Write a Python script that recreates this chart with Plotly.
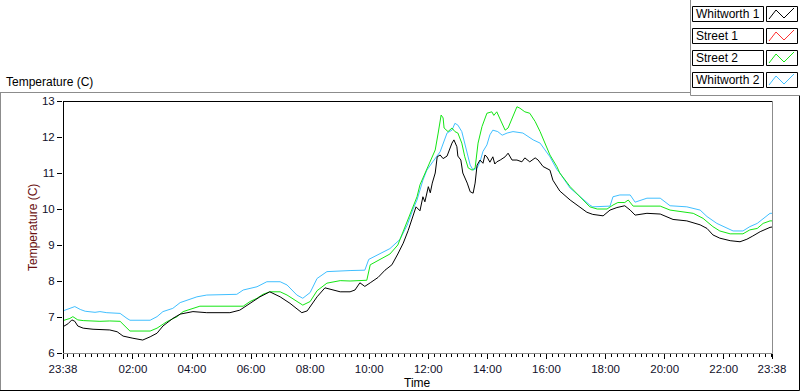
import plotly.graph_objects as go

# ---------------- data (time = minutes after 23:38 start) ----------------
tick_minutes = [0, 142, 262, 382, 502, 622, 742, 862, 982, 1102, 1222, 1342, 1440]
tick_labels = ["23:38", "02:00", "04:00", "06:00", "08:00", "10:00", "12:00",
               "14:00", "16:00", "18:00", "20:00", "22:00", "23:38"]

series_names = ["Whitworth 1", "Street 1", "Street 2", "Whitworth 2"]
series_colors = ["#000000", "#ff3030", "#14e614", "#40bfff"]

w1_time = [0, 10, 18, 24, 30, 41, 61, 95, 110, 122, 142, 162, 177, 191, 203, 223, 238, 252,
           264, 292, 339, 359, 380, 400, 420, 441, 461, 485, 496, 516, 532, 548, 563, 583,
           593, 603, 613, 624, 640, 654, 668, 680, 691, 701, 711, 717, 725, 731, 735, 742,
           746, 750, 756, 760, 766, 772, 780, 786, 790, 794, 800, 802, 808, 812, 821, 827,
           833, 837, 841, 847, 853, 857, 861, 867, 873, 877, 881, 888, 898, 904, 912, 922,
           932, 938, 948, 959, 965, 975, 989, 995, 1009, 1030, 1050, 1064, 1076, 1097, 1111,
           1125, 1141, 1152, 1162, 1186, 1213, 1227, 1239, 1267, 1294, 1308, 1320, 1334,
           1355, 1375, 1389, 1401, 1416, 1436, 1440]
w1_temp = [6.73, 6.81, 6.92, 6.88, 6.75, 6.69, 6.66, 6.64, 6.59, 6.47, 6.41, 6.36, 6.45, 6.55,
           6.75, 6.96, 7.08, 7.12, 7.15, 7.12, 7.12, 7.19, 7.38, 7.56, 7.70, 7.56, 7.38, 7.12,
           7.17, 7.56, 7.81, 7.76, 7.70, 7.70, 7.75, 7.95, 7.85, 7.95, 8.10, 8.30, 8.45, 8.75,
           9.05, 9.40, 9.80, 10.06, 9.95, 10.34, 10.20, 10.62, 10.45, 10.72, 11.00, 11.45,
           11.50, 11.40, 11.47, 11.69, 11.83, 11.92, 11.73, 11.47, 11.36, 11.00, 10.72, 10.48,
           10.44, 10.72, 11.22, 11.36, 11.27, 11.50, 11.45, 11.30, 11.45, 11.25, 11.31, 11.36,
           11.45, 11.55, 11.36, 11.36, 11.31, 11.42, 11.31, 11.42, 11.36, 11.18, 11.08, 10.80,
           10.50, 10.25, 10.05, 9.91, 9.85, 9.81, 9.97, 10.04, 10.09, 9.97, 9.83, 9.88, 9.86,
           9.79, 9.71, 9.67, 9.56, 9.46, 9.28, 9.19, 9.12, 9.09, 9.16, 9.25, 9.37, 9.49, 9.50]

s1_time = []
s1_temp = []

s2_time = [0, 14, 20, 30, 41, 75, 95, 116, 130, 136, 177, 191, 211, 232, 244, 264, 278, 366,
           380, 394, 406, 420, 441, 455, 475, 487, 502, 516, 536, 563, 583, 617, 624, 644,
           664, 680, 695, 705, 711, 719, 725, 731, 745, 756, 762, 768, 772, 774, 782, 790,
           796, 802, 810, 816, 823, 831, 837, 843, 851, 861, 871, 875, 881, 892, 898, 904,
           914, 922, 928, 938, 948, 959, 969, 979, 989, 1003, 1009, 1030, 1050, 1070, 1085,
           1105, 1117, 1127, 1141, 1148, 1158, 1213, 1233, 1259, 1280, 1300, 1320, 1334, 1355,
           1381, 1395, 1410, 1422, 1436, 1440]
s2_temp = [6.90, 6.96, 7.01, 6.92, 6.90, 6.88, 6.89, 6.88, 6.69, 6.61, 6.61, 6.69, 6.87, 7.01,
           7.15, 7.24, 7.30, 7.30, 7.43, 7.52, 7.63, 7.70, 7.70, 7.61, 7.43, 7.33, 7.43, 7.73,
           7.94, 8.01, 8.00, 8.02, 8.45, 8.60, 8.75, 9.00, 9.50, 9.85, 10.02, 10.34, 10.67,
           10.86, 11.28, 11.64, 12.11, 12.61, 12.53, 12.25, 12.15, 12.25, 12.15, 12.11, 11.83,
           11.45, 11.14, 11.08, 11.14, 11.83, 12.29, 12.66, 12.70, 12.60, 12.70, 12.38, 12.19,
           12.25, 12.56, 12.84, 12.80, 12.70, 12.66, 12.43, 12.15, 11.83, 11.50, 11.18, 11.00,
           10.62, 10.34, 10.06, 10.00, 10.00, 10.11, 10.18, 10.18, 10.25, 10.08, 10.08, 9.97,
           9.93, 9.88, 9.74, 9.51, 9.39, 9.31, 9.31, 9.42, 9.46, 9.60, 9.67, 9.67]

w2_time = [0, 14, 24, 35, 45, 65, 75, 89, 116, 130, 136, 177, 191, 203, 223, 238, 258, 272,
           292, 353, 366, 394, 414, 441, 455, 475, 487, 502, 516, 536, 583, 613, 621, 644,
           664, 684, 699, 711, 719, 731, 739, 751, 766, 780, 790, 796, 802, 810, 816, 821,
           827, 833, 841, 847, 853, 861, 867, 873, 883, 892, 902, 914, 934, 955, 969, 979,
           989, 1003, 1009, 1030, 1050, 1070, 1076, 1111, 1117, 1131, 1152, 1162, 1186, 1213,
           1233, 1267, 1294, 1308, 1328, 1349, 1361, 1381, 1395, 1410, 1422, 1436, 1440]
w2_temp = [7.17, 7.24, 7.29, 7.21, 7.16, 7.13, 7.15, 7.12, 7.10, 6.96, 6.91, 6.91, 7.01, 7.15,
           7.24, 7.40, 7.49, 7.56, 7.61, 7.63, 7.75, 7.84, 7.98, 7.98, 7.89, 7.61, 7.52, 7.68,
           8.07, 8.26, 8.29, 8.30, 8.60, 8.75, 8.90, 9.15, 9.55, 10.00, 10.25, 10.80, 11.08,
           11.31, 11.59, 12.11, 12.19, 12.38, 12.33, 12.15, 11.83, 11.50, 11.22, 11.08, 11.14,
           11.31, 11.60, 11.78, 12.06, 12.19, 12.15, 12.05, 12.11, 12.15, 12.11, 11.92, 11.83,
           11.64, 11.45, 11.10, 11.00, 10.58, 10.34, 10.11, 10.06, 10.08, 10.34, 10.39, 10.39,
           10.19, 10.30, 10.30, 10.09, 10.06, 9.97, 9.79, 9.60, 9.46, 9.39, 9.39, 9.51, 9.60,
           9.74, 9.88, 9.88]

# ---------------- layout geometry ----------------
W, H = 800, 392
L, R, T, B = 63, 28, 101, 39
PW, PH = W - L - R, H - T - B
FONT = "Liberation Sans"


def px(x):
    return (x - L) / PW


def py(y):
    return (H - B - y) / PH


fig = go.Figure()
for t, v, name, col in [(w2_time, w2_temp, series_names[3], series_colors[3]),
                        (s2_time, s2_temp, series_names[2], series_colors[2]),
                        (s1_time, s1_temp, series_names[1], series_colors[1]),
                        (w1_time, w1_temp, series_names[0], series_colors[0])]:
    fig.add_trace(go.Scatter(x=t, y=v, mode="lines", name=name, hoverinfo="skip",
                             line=dict(color=col, width=1), showlegend=False))

shapes = []


def line(x0, y0, x1, y1, color, width=1):
    shapes.append(dict(type="line", xref="paper", yref="paper",
                       x0=px(x0), y0=py(y0), x1=px(x1), y1=py(y1),
                       line=dict(color=color, width=width), layer="above"))


# outer frame
line(0, 92.5, 690, 92.5, "#8c8c8c")
line(0.5, 92.5, 0.5, 390.5, "#8c8c8c")
line(690.5, 0, 690.5, 95.5, "#8c8c8c")
line(690.5, 95.5, 799, 95.5, "#8c8c8c")
line(799.5, 95.5, 799.5, 390.5, "#000000")
line(0, 390.5, 799.5, 390.5, "#000000")
# plot area border
line(63, 101.5, 772, 101.5, "#000000")
line(63.5, 101, 63.5, 353, "#000000")
line(772.5, 101, 772.5, 353.5, "#8c8c8c")
line(63, 353.5, 772.5, 353.5, "#8c8c8c")

annotations = []
# legend (manual)
for i, (name, col) in enumerate(zip(series_names, series_colors)):
    top = 6 + 22 * i
    bot = top + 15
    shapes.append(dict(type="rect", xref="paper", yref="paper",
                       x0=px(692.5), x1=px(763.5), y0=py(top + 0.5), y1=py(bot + 0.5),
                       line=dict(color="#000000", width=1), fillcolor="white"))
    shapes.append(dict(type="rect", xref="paper", yref="paper",
                       x0=px(766.5), x1=px(797.5), y0=py(top + 0.5), y1=py(bot + 0.5),
                       line=dict(color="#000000", width=1), fillcolor="white"))
    pts = [(769, bot - 2), (776, top + 4), (784, bot - 3), (794, top + 2)]
    path = "M " + " L ".join(f"{px(a)},{py(b)}" for a, b in pts)
    shapes.append(dict(type="path", xref="paper", yref="paper", path=path,
                       line=dict(color=col, width=1)))
    annotations.append(dict(xref="paper", yref="paper", x=px(694), y=py(top + 8),
                            xanchor="left", yanchor="middle", showarrow=False,
                            text=name, font=dict(family=FONT, size=12, color="#000000")))

annotations.append(dict(xref="paper", yref="paper", x=px(4), y=py(82),
                        xanchor="left", yanchor="middle", showarrow=False,
                        text="Temperature (C)",
                        font=dict(family=FONT, size=12, color="#000000")))
annotations.append(dict(xref="paper", yref="paper", x=px(417), y=py(383),
                        xanchor="center", yanchor="middle", showarrow=False,
                        text="Time",
                        font=dict(family=FONT, size=12, color="#000000")))
annotations.append(dict(xref="paper", yref="paper", x=px(33), y=py(228),
                        xanchor="center", yanchor="middle", showarrow=False,
                        textangle=-90, text="Temperature (C)",
                        font=dict(family=FONT, size=12, color="#6a1010")))

fig.update_layout(
    width=W, height=H,
    margin=dict(l=L, r=R, t=T, b=B, pad=0, autoexpand=False),
    paper_bgcolor="white", plot_bgcolor="white",
    font=dict(family=FONT, size=12, color="#000000"),
    shapes=shapes, annotations=annotations, hovermode=False,
    xaxis=dict(range=[0, 1440], tickmode="array", tickvals=tick_minutes, ticktext=tick_labels,
               ticks="outside", ticklen=5, tickcolor="#000000", showgrid=False,
               zeroline=False, showline=False, automargin=False,
               tickfont=dict(family=FONT, size=11.5, color="#10102a"),
               minor=dict(ticks="outside", ticklen=3, tickcolor="#000000",
                          tickmode="linear", tick0=10, dtick=12, showgrid=False)),
    yaxis=dict(range=[6, 13], dtick=1, tick0=6, ticks="outside", ticklen=5,
               tickcolor="#000000", showgrid=False, zeroline=False, showline=False,
               automargin=False,
               tickfont=dict(family=FONT, size=11.5, color="#10102a")),
)

fig.write_html("out.html", config={"displayModeBar": False, "staticPlot": True},
               post_script="document.body.style.margin='0';document.body.style.overflow='hidden';")
